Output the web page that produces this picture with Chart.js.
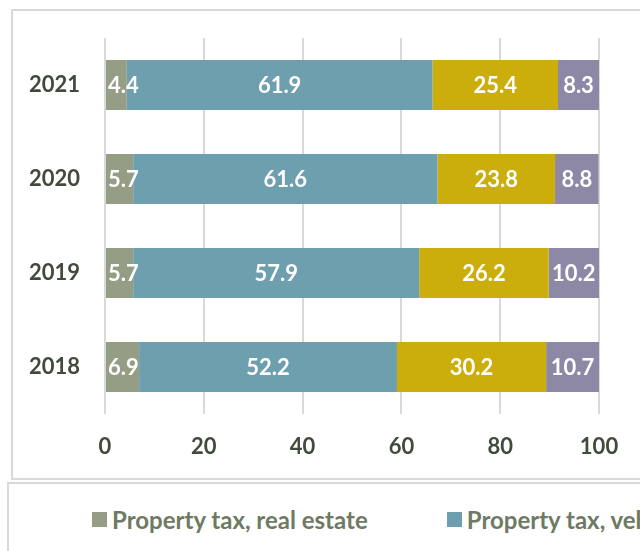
<!DOCTYPE html>
<html>
<head>
<meta charset="utf-8">
<script src="https://cdn.jsdelivr.net/npm/chart.js@4.4.0/dist/chart.umd.min.js"></script>
<style>
  html, body { margin: 0; padding: 0; background: #fff; overflow: hidden; }
  #page { position: relative; width: 640px; height: 551px; overflow: hidden; font-family: Lato, sans-serif; }
  #chartBox { position: absolute; left: 11px; top: 9px; width: 760px; height: 467px; border: 2px solid #d9d9d9; }
  #chartBox canvas { position: absolute; left: 0; top: 0; }
  #legendBox { position: absolute; left: 7px; top: 482px; width: 900px; height: 120px; border: 2px solid #d9d9d9; }
  #legend { position: absolute; left: 83px; top: 21px; display: flex; gap: 79px; white-space: nowrap; }
  .item { display: flex; align-items: center; font-weight: bold; font-size: 24px; color: #6e7a63; }
  .swatch { width: 15px; height: 15px; margin-right: 5px; }
</style>
</head>
<body>
<div id="page">
  <div id="chartBox"><canvas id="taxChart" width="760" height="467"></canvas></div>
  <div id="legendBox"><div id="legend"></div></div>
</div>
<script>
// data, top row first
const years = ['2021', '2020', '2019', '2018'];
const realEstate = [4.4, 5.7, 5.7, 6.9];
const vehicles = [61.9, 61.6, 57.9, 52.2];
const thirdTax = [25.4, 23.8, 26.2, 30.2];
const otherTax = [8.3, 8.8, 10.2, 10.7];
const xTicks = [0, 20, 40, 60, 80, 100];

const seriesNames = ['Property tax, real estate', 'Property tax, vehicles', 'Land tax', 'Other'];
const seriesColors = ['#959d85', '#6d9fae', '#cbae0b', '#8c88a6'];
const seriesData = [realEstate, vehicles, thirdTax, otherTax];

const tickColor = '#414b3c';

// white value labels in the middle of each segment, kept inside the plot
const barLabels = {
  id: 'barLabels',
  afterDatasetsDraw(chart) {
    const ctx = chart.ctx;
    ctx.save();
    ctx.font = 'bold 22px Lato';
    ctx.fillStyle = '#ffffff';
    ctx.textAlign = 'center';
    ctx.textBaseline = 'middle';
    chart.data.datasets.forEach((ds, i) => {
      chart.getDatasetMeta(i).data.forEach((bar, j) => {
        const text = ds.data[j].toFixed(1);
        const w = ctx.measureText(text).width;
        let x = (bar.x + bar.base) / 2;
        x = Math.max(x, chart.chartArea.left + w / 2 + 3);
        x = Math.min(x, chart.chartArea.right - w / 2 - 2);
        ctx.fillText(text, x, bar.y + 1);
      });
    });
    ctx.restore();
  }
};

new Chart(document.getElementById('taxChart'), {
  type: 'bar',
  data: {
    labels: years,
    datasets: seriesNames.map((name, i) => ({
      label: name,
      data: seriesData[i],
      backgroundColor: seriesColors[i],
      borderWidth: 0,
      categoryPercentage: 1,
      barPercentage: 0.53
    }))
  },
  options: {
    indexAxis: 'y',
    responsive: false,
    animation: false,
    layout: { padding: { top: 27, right: 174, left: 0, bottom: 0 } },
    plugins: { legend: { display: false }, tooltip: { enabled: false } },
    scales: {
      x: {
        stacked: true,
        min: 0,
        max: 100,
        afterBuildTicks: s => { s.ticks = xTicks.map(v => ({ value: v })); },
        afterFit: s => { s.height = 64; },
        grid: { color: '#d9d9d9', lineWidth: 2, drawTicks: false },
        border: { display: false },
        ticks: { padding: 20, color: tickColor, font: { family: 'Lato', size: 22, weight: 'bold' } }
      },
      y: {
        stacked: true,
        afterFit: s => {
          s.width = 92;
          s.paddingTop = 0;
          s.paddingBottom = 0;
        },
        grid: { display: false, drawTicks: false },
        border: { display: false },
        ticks: { padding: 25, color: tickColor, font: { family: 'Lato', size: 22, weight: 'bold' } }
      }
    }
  },
  plugins: [barLabels]
});

// legend box below the chart
const legendEl = document.getElementById('legend');
seriesNames.forEach((name, i) => {
  const item = document.createElement('div');
  item.className = 'item';
  item.innerHTML = `<span class="swatch" style="background:${seriesColors[i]}"></span>${name}`;
  legendEl.appendChild(item);
});
</script>
</body>
</html>
